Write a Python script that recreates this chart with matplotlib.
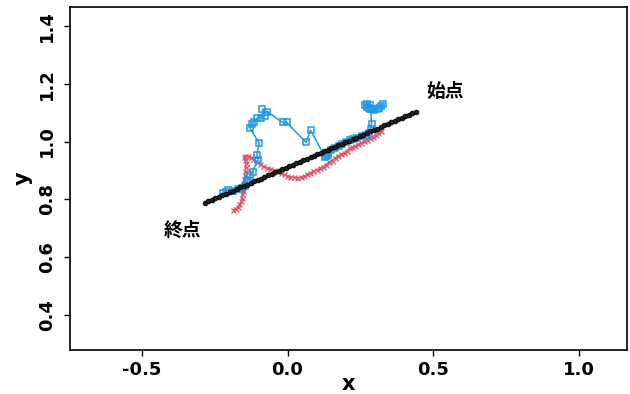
import matplotlib
matplotlib.use("Agg")
import matplotlib.pyplot as plt

# Straight reference path (black beads), from end (lower-left) to start (upper-right)
line_x = [-0.284, -0.272, -0.260, -0.248, -0.236, -0.224, -0.212, -0.199, -0.187, -0.175,
          -0.163, -0.151, -0.139, -0.127, -0.115, -0.103, -0.091, -0.079, -0.067, -0.054,
          -0.042, -0.030, -0.018, -0.006, 0.006, 0.018, 0.030, 0.042, 0.054, 0.067,
          0.079, 0.091, 0.103, 0.115, 0.127, 0.139, 0.151, 0.163, 0.175, 0.187,
          0.199, 0.212, 0.224, 0.236, 0.248, 0.260, 0.272, 0.284, 0.296, 0.308,
          0.320, 0.332, 0.344, 0.357, 0.369, 0.381, 0.393, 0.405, 0.417, 0.429, 0.441]
line_y = [0.788, 0.793, 0.799, 0.804, 0.809, 0.814, 0.820, 0.825, 0.830, 0.835,
          0.841, 0.846, 0.851, 0.856, 0.862, 0.867, 0.872, 0.877, 0.883, 0.888,
          0.893, 0.898, 0.904, 0.909, 0.914, 0.919, 0.925, 0.930, 0.935, 0.940,
          0.946, 0.951, 0.956, 0.961, 0.967, 0.972, 0.977, 0.982, 0.988, 0.993,
          0.998, 1.003, 1.009, 1.014, 1.019, 1.024, 1.030, 1.035, 1.040, 1.045,
          1.051, 1.056, 1.061, 1.066, 1.072, 1.077, 1.082, 1.087, 1.093, 1.098, 1.103]

# Red trajectory (x markers)
red_x = [0.322, 0.312, 0.303, 0.293, 0.283, 0.272, 0.262, 0.252, 0.242, 0.232,
         0.222, 0.213, 0.203, 0.193, 0.183, 0.172, 0.162, 0.152, 0.142, 0.132,
         0.122, 0.111, 0.100, 0.089, 0.078, 0.067, 0.056, 0.045, 0.034, 0.022,
         0.010, -0.001, -0.012, -0.024, -0.036, -0.048, -0.060, -0.072, -0.084, -0.095,
         -0.106, -0.117, -0.127, -0.137, -0.146, -0.150, -0.146, -0.143, -0.144, -0.146,
         -0.147, -0.149, -0.151, -0.152, -0.153, -0.155, -0.157, -0.160, -0.165, -0.170,
         -0.178, -0.186]
red_y = [1.038, 1.030, 1.024, 1.017, 1.013, 1.005, 1.001, 0.995, 0.990, 0.986,
         0.980, 0.976, 0.968, 0.960, 0.956, 0.950, 0.942, 0.934, 0.928, 0.920,
         0.913, 0.907, 0.902, 0.897, 0.892, 0.886, 0.879, 0.876, 0.875, 0.876,
         0.878, 0.881, 0.886, 0.892, 0.897, 0.902, 0.906, 0.910, 0.914, 0.921,
         0.930, 0.938, 0.945, 0.950, 0.951, 0.945, 0.936, 0.925, 0.912, 0.898,
         0.884, 0.870, 0.856, 0.843, 0.830, 0.817, 0.805, 0.793, 0.782, 0.774,
         0.768, 0.764]

# Blue trajectory (square markers)
blue_x = [0.329, 0.322, 0.315, 0.306, 0.298, 0.290, 0.281, 0.272, 0.266, 0.274,
          0.283, 0.285, 0.289, 0.286, 0.279, 0.268, 0.255, 0.240, 0.226, 0.213,
          0.200, 0.188, 0.176, 0.163, 0.150, 0.138, 0.131, 0.140, 0.129, 0.079,
          0.064, -0.003, -0.017, -0.070, -0.086, -0.078, -0.092, -0.104, -0.115, -0.123,
          -0.129, -0.097, -0.105, -0.101, -0.120, -0.128, -0.135, -0.138, -0.146, -0.156,
          -0.170, -0.186, -0.204, -0.212, -0.221]
blue_y = [1.130, 1.124, 1.117, 1.112, 1.110, 1.113, 1.116, 1.118, 1.127, 1.129,
          1.128, 1.112, 1.062, 1.045, 1.028, 1.024, 1.020, 1.014, 1.010, 1.005,
          0.998, 0.990, 0.984, 0.977, 0.970, 0.962, 0.950, 0.955, 0.946, 1.040,
          0.997, 1.066, 1.066, 1.104, 1.112, 1.090, 1.083, 1.081, 1.068, 1.061,
          1.047, 0.994, 0.954, 0.937, 0.896, 0.885, 0.867, 0.860, 0.845, 0.840,
          0.835, 0.829, 0.833, 0.826, 0.821]

labels = ["始点", "終点"]
label_x = [0.540, -0.361]
label_y = [1.174, 0.694]

x_ticks = [-0.5, 0.0, 0.5, 1.0]
y_ticks = [0.4, 0.6, 0.8, 1.0, 1.2, 1.4]

RED = "#DF536B"
BLUE = "#2297E6"

fig = plt.figure(figsize=(6.3, 3.94), dpi=100)
ax = fig.add_axes([70 / 630, 1 - 350 / 394, 557 / 630, 343 / 394])

ax.plot(red_x, red_y, color=RED, lw=1.0, marker="x", ms=3.6, mew=0.9, zorder=2)
ax.plot(blue_x, blue_y, color=BLUE, lw=1.1, marker="s", ms=4.0, mfc="none", mew=1.1, zorder=3)
ax.plot(line_x, line_y, color="black", lw=0.8, marker="o", ms=3.4, mfc="#222222", mew=0.6, zorder=4)

for t, tx, ty in zip(labels, label_x, label_y):
    ax.text(tx, ty, t, ha="center", va="center", fontsize=13.5, fontweight="bold",
            family=["Noto Sans CJK JP", "DejaVu Sans"])

ax.set_xlim(-0.747, 1.166)
ax.set_ylim(0.278, 1.466)
ax.set_xticks(x_ticks)
ax.set_xticklabels([f"{v:.1f}" for v in x_ticks], fontsize=13, fontweight="bold")
ax.set_yticks(y_ticks)
ax.set_yticklabels([f"{v:.1f}" for v in y_ticks], fontsize=13, fontweight="bold",
                   rotation=90, va="center")
ax.tick_params(axis="x", direction="out", length=4, width=1.0, pad=4)
ax.tick_params(axis="y", direction="out", length=4, width=1.0, pad=6)
ax.set_xlabel("x", fontsize=15, fontweight="bold", labelpad=-4)
ax.set_ylabel("y", fontsize=15, fontweight="bold", labelpad=4)
for s in ax.spines.values():
    s.set_linewidth(1.2)

fig.savefig("out.png", dpi=100)
